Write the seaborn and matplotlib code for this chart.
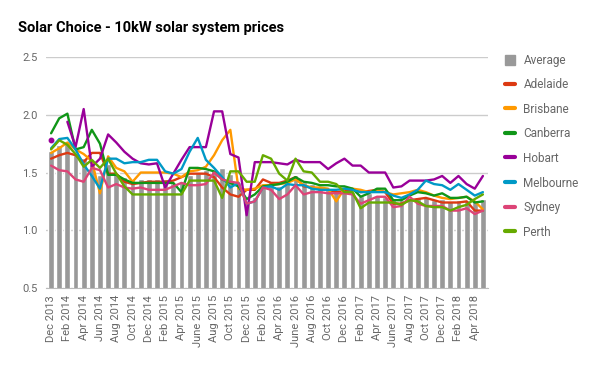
import numpy as np
import pandas as pd
import matplotlib
matplotlib.use("Agg")
import matplotlib.pyplot as plt
from matplotlib.patches import Patch
from matplotlib.lines import Line2D
import seaborn as sns

months = ["Dec 2013", "Jan 2014", "Feb 2014", "Mar 2014", "Apr 2014", "May 2014",
          "Jun 2014", "Jul 2014", "Aug 2014", "Sep 2014", "Oct 2014", "Nov 2014",
          "Dec 2014", "Jan 2015", "Feb 2015", "Mar 2015", "Apr 2015", "May 2015",
          "June 2015", "July 2015", "Aug 2015", "Sep 2015", "Oct 2015", "Nov 2015",
          "Dec 2015", "Jan 2016", "Feb 2016", "Mar 2016", "Apr 2016", "May 2016",
          "June 2016", "July 2016", "Aug 2016", "Sep 2016", "Oct 2016", "Nov 2016",
          "Dec 2016", "Jan 2017", "Feb 2017", "Mar 2017", "Apr 2017", "May 2017",
          "June 2017", "July 2017", "Aug 2017", "Sep 2017", "Oct 2017", "Nov 2017",
          "Dec 2017", "Jan 2018", "Feb 2018", "Mar 2018", "Apr 2018", "May 2018"]

average = [1.69, 1.74, 1.76, 1.65, 1.63, 1.57, 1.48, 1.57, 1.50, 1.46, 1.44, 1.44,
           1.44, 1.44, 1.44, 1.41, 1.42, 1.48, 1.50, 1.52, 1.52, 1.54, 1.49, 1.42,
           1.25, 1.29, 1.39, 1.43, 1.38, 1.42, 1.48, 1.42, 1.40, 1.37, 1.37, 1.35,
           1.35, 1.33, 1.30, 1.32, 1.30, 1.29, 1.27, 1.26, 1.26, 1.29, 1.29, 1.26,
           1.27, 1.25, 1.26, 1.26, 1.25, 1.27]

adelaide = [1.62, 1.65, 1.67, 1.65, 1.59, 1.67, 1.67, 1.49, 1.49, 1.42, 1.40, 1.41,
            1.42, 1.42, 1.42, 1.43, 1.46, 1.49, 1.49, 1.49, 1.46, 1.37, 1.31, 1.29,
            1.35, 1.35, 1.44, 1.41, 1.41, 1.43, 1.46, 1.38, 1.37, 1.36, 1.35, 1.33,
            1.34, 1.35, 1.33, 1.34, 1.35, 1.33, 1.23, 1.23, 1.26, 1.27, 1.28, 1.26,
            1.24, 1.24, 1.24, 1.25, 1.17, 1.17]

brisbane = [1.67, 1.71, 1.76, 1.70, 1.66, 1.60, 1.32, 1.64, 1.54, 1.51, 1.42, 1.50,
            1.50, 1.50, 1.50, 1.49, 1.46, 1.51, 1.52, 1.55, 1.65, 1.78, 1.87, 1.36,
            1.35, 1.36, 1.39, 1.39, 1.40, 1.41, 1.44, 1.39, 1.37, 1.37, 1.36, 1.25,
            1.36, 1.36, 1.35, 1.33, 1.35, 1.33, 1.31, 1.32, 1.33, 1.35, 1.33, 1.30,
            1.28, 1.27, 1.28, 1.29, 1.25, 1.18]

canberra = [1.84, 1.97, 2.01, 1.70, 1.72, 1.87, 1.75, 1.48, 1.48, 1.44, 1.41, 1.41,
            1.41, 1.41, 1.41, 1.41, 1.33, 1.54, 1.54, 1.53, 1.51, 1.44, 1.41, 1.38,
            1.27, 1.31, 1.38, 1.39, 1.40, 1.42, 1.46, 1.42, 1.41, 1.39, 1.39, 1.38,
            1.38, 1.36, 1.29, 1.32, 1.36, 1.36, 1.26, 1.26, 1.30, 1.33, 1.32, 1.30,
            1.32, 1.28, 1.28, 1.29, 1.24, 1.25]

hobart = [1.78, np.nan, 1.94, 1.72, 2.05, 1.55, 1.62, 1.83, 1.76, 1.68, 1.62, 1.58,
          1.57, 1.58, 1.37, 1.49, 1.61, 1.72, 1.72, 1.72, 2.03, 2.03, 1.66, 1.63,
          1.13, 1.59, 1.59, 1.59, 1.58, 1.57, 1.61, 1.59, 1.59, 1.59, 1.53, 1.58,
          1.62, 1.56, 1.56, 1.50, 1.50, 1.50, 1.37, 1.38, 1.43, 1.43, 1.43, 1.44,
          1.47, 1.41, 1.47, 1.40, 1.36, 1.47]

melbourne = [1.71, 1.79, 1.80, 1.70, 1.57, 1.47, 1.36, 1.62, 1.62, 1.58, 1.59, 1.59,
             1.61, 1.61, 1.51, 1.49, 1.53, 1.68, 1.80, 1.61, 1.54, 1.46, 1.37, 1.41,
             1.23, 1.25, 1.37, 1.38, 1.35, 1.40, 1.39, 1.39, 1.36, 1.35, 1.35, 1.35,
             1.36, 1.35, 1.33, 1.33, 1.33, 1.33, 1.30, 1.28, 1.31, 1.35, 1.43, 1.40,
             1.39, 1.35, 1.40, 1.35, 1.30, 1.33]

sydney = [1.56, 1.52, 1.51, 1.44, 1.42, 1.54, 1.52, 1.37, 1.40, 1.37, 1.36, 1.37,
          1.35, 1.35, 1.35, 1.38, 1.41, 1.39, 1.39, 1.40, 1.50, 1.44, 1.42, 1.41,
          1.23, 1.25, 1.37, 1.35, 1.27, 1.31, 1.39, 1.31, 1.33, 1.33, 1.32, 1.32,
          1.32, 1.31, 1.23, 1.26, 1.29, 1.29, 1.20, 1.21, 1.29, 1.23, 1.21, 1.21,
          1.21, 1.17, 1.17, 1.19, 1.14, 1.17]

perth = [1.70, 1.78, 1.74, 1.66, 1.55, 1.61, 1.54, 1.62, 1.49, 1.38, 1.31, 1.31,
         1.31, 1.31, 1.31, 1.31, 1.31, 1.43, 1.43, 1.43, 1.43, 1.28, 1.51, 1.51,
         1.42, 1.42, 1.65, 1.62, 1.49, 1.43, 1.62, 1.51, 1.50, 1.42, 1.42, 1.40,
         1.33, 1.33, 1.19, 1.24, 1.24, 1.24, 1.24, 1.22, 1.26, 1.25, 1.21, 1.20,
         1.20, 1.17, 1.20, 1.22, 1.27, 1.31]

cities = ["Adelaide", "Brisbane", "Canberra", "Hobart", "Melbourne", "Sydney", "Perth"]
colors = ["#dc3912", "#ff9900", "#109618", "#990099", "#0099c6", "#dd4477", "#66aa00"]

df = pd.DataFrame({"month": months, "Average": average, "Adelaide": adelaide,
                   "Brisbane": brisbane, "Canberra": canberra, "Hobart": hobart,
                   "Melbourne": melbourne, "Sydney": sydney, "Perth": perth})
df["pos"] = np.arange(len(df))

sns.set_style("white")
plt.rcParams["font.family"] = ["Roboto", "DejaVu Sans"]

fig, ax = plt.subplots(figsize=(6, 3.71), dpi=100)
fig.subplots_adjust(left=0.077, right=0.813, top=0.846, bottom=0.224)

sns.barplot(data=df, x="pos", y="Average", color="#999999", saturation=1,
            width=0.72, ax=ax)

for city, c in zip(cities, colors):
    ax.plot(df["pos"], df[city], color=c, lw=1.7, solid_joinstyle="round")
    # isolated points (no neighbours) get a dot
    v = df[city].to_numpy()
    lone = ~np.isnan(v) & np.isnan(np.r_[np.nan, v[:-1]]) & np.isnan(np.r_[v[1:], np.nan])
    ax.plot(df["pos"][lone], v[lone], "o", color=c, ms=3.2)

ax.set_xlim(-0.6, len(df) - 0.4)
ax.set_ylim(0.5, 2.5)
ax.set_yticks([0.5, 1.0, 1.5, 2.0, 2.5])
ax.set_yticklabels(["0.5", "1.0", "1.5", "2.0", "2.5"])
ax.set_xticks(df["pos"][::2])
ax.set_xticklabels(df["month"][::2], rotation=90)
ax.tick_params(axis="both", length=0, labelsize=8, colors="#666666")
ax.tick_params(axis="x", pad=5)
ax.tick_params(axis="y", pad=6)
ax.set_xlabel("")
ax.set_ylabel("")
ax.yaxis.grid(True, color="#cccccc", lw=1)
ax.set_axisbelow(True)
for s in ["top", "right", "left"]:
    ax.spines[s].set_visible(False)
ax.spines["bottom"].set_color("#bbbbbb")

fig.text(0.03, 0.925, "Solar Choice - 10kW solar system prices",
         fontsize=10.5, fontweight="bold", color="#000000", va="center")

handles = [Patch(color="#999999", label="Average")]
handles += [Line2D([0], [0], color=c, lw=3, label=n) for n, c in zip(cities, colors)]
leg = fig.legend(handles=handles, loc="upper left", bbox_to_anchor=(0.833, 0.868),
                 frameon=False, fontsize=8.5, handlelength=0.9, handleheight=0.9,
                 handletextpad=0.7, labelspacing=0.98, borderaxespad=0)
for t in leg.get_texts():
    t.set_color("#666666")

fig.savefig("out.png", dpi=100)
